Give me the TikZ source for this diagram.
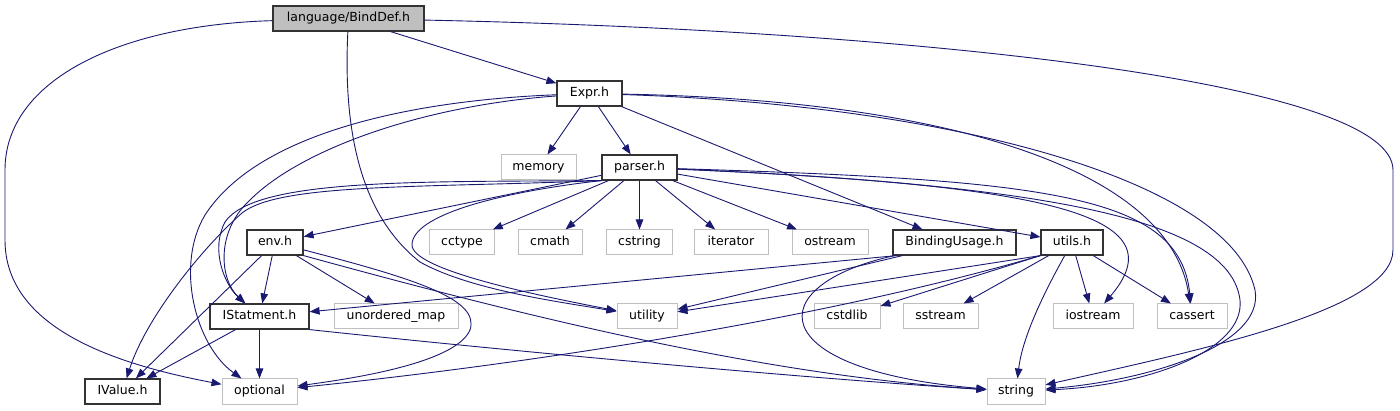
\documentclass[tikz,border=0pt]{standalone}
\usepackage{fontspec}
\setmainfont{DejaVu Sans}
\usetikzlibrary{arrows.meta}
\definecolor{edgeblue}{HTML}{191970}
\definecolor{sysgray}{HTML}{BFBFBF}
\begin{document}
\begin{tikzpicture}[
    x=1pt, y=-1pt,
    every node/.style={font=\fontsize{12.5}{14}\selectfont, inner sep=0pt, minimum height=25pt, text height=9.2pt, text depth=2.6pt},
    file/.style={draw=black!80, line width=1.2pt, fill=white},
    sys/.style={draw=sysgray, line width=1pt, fill=white},
    root/.style={draw=black!80, line width=1.2pt, fill=sysgray},
    arr/.style={-{Triangle[length=10pt,width=7.5pt]}, draw=edgeblue, line width=0.9pt}
]
\useasboundingbox (0,0) rectangle (1400,411);

% Level 0 and 1
\node[root, minimum width=151pt] (bind) at (348.5,18.5) {language/BindDef.h};
\node[file, minimum width=65pt] (expr) at (589.5,93.5) {Expr.h};
% Level 2
\node[sys, minimum width=75pt] (memory) at (538.5,167.5) {memory};
\node[file, minimum width=75pt] (parser) at (639.5,167.5) {parser.h};
% Level 3
\node[file, minimum width=56pt] (env) at (275,242.5) {env.h};
\node[sys, minimum width=65pt] (cctype) at (462,242.5) {cctype};
\node[sys, minimum width=64pt] (cmath) at (550,242.5) {cmath};
\node[sys, minimum width=66pt] (cstring) at (639.5,242.5) {cstring};
\node[sys, minimum width=74pt] (iterator) at (731,242.5) {iterator};
\node[sys, minimum width=76pt] (ostream) at (830,242.5) {ostream};
\node[file, minimum width=123pt] (binding) at (954.5,242.5) {BindingUsage.h};
\node[file, minimum width=62pt] (utils) at (1072,242.5) {utils.h};
% Level 4
\node[file, minimum width=99pt] (istatment) at (259.5,316.5) {IStatment.h};
\node[sys, minimum width=124pt] (unordered) at (396,316.5) {unordered\_map};
\node[sys, minimum width=60pt] (utility) at (647,316.5) {utility};
\node[sys, minimum width=66pt] (cstdlib) at (847,316.5) {cstdlib};
\node[sys, minimum width=75pt] (sstream) at (940.5,316.5) {sstream};
\node[sys, minimum width=80pt] (iostream) at (1093,316.5) {iostream};
\node[sys, minimum width=70pt] (cassert) at (1192,316.5) {cassert};
% Level 5
\node[file, minimum width=75pt] (ivalue) at (122.5,391.5) {IValue.h};
\node[sys, minimum width=75pt] (optional) at (259.5,391.5) {optional};
\node[sys, minimum width=58pt] (string) at (1016,391.5) {string};

% from language/BindDef.h
\draw[arr] (bind) -- (expr);
\draw[arr] (bind) .. controls (120,25) and (5,80) .. (5,170) -- (5,240) .. controls (5,330) and (120,365) .. (optional);
\draw[arr] (bind) .. controls (343,130) and (360,215) .. (420,262) .. controls (470,290) and (560,302) .. (utility);
\draw[arr] (bind) .. controls (900,30) and (1393,80) .. (1393,170) -- (1393,250) .. controls (1393,310) and (1200,350) .. (string);

% from Expr.h
\draw[arr] (expr) -- (memory);
\draw[arr] (expr) -- (parser);
\draw[arr] (expr) -- (binding);
\draw[arr] (expr) .. controls (420,100) and (260,130) .. (205,215) .. controls (175,265) and (195,345) .. (optional);
\draw[arr] (expr) .. controls (420,106) and (300,150) .. (250,200) .. controls (215,232) and (220,280) .. (istatment);
\draw[arr] (expr) .. controls (950,100) and (1170,170) .. (cassert);
\draw[arr] (expr) .. controls (950,105) and (1230,180) .. (1255,290) .. controls (1265,345) and (1150,380) .. (string);

% from parser.h
\draw[arr] (parser) -- (env);
\draw[arr] (parser) -- (cctype);
\draw[arr] (parser) -- (cmath);
\draw[arr] (parser) -- (cstring);
\draw[arr] (parser) -- (iterator);
\draw[arr] (parser) -- (ostream);
\draw[arr] (parser) -- (utils);
\draw[arr] (parser.south west) .. controls (420,182) and (255,178) .. (225,222) .. controls (210,250) and (225,285) .. (istatment);
\draw[arr] (parser.south west) .. controls (420,188) and (280,183) .. (242,213) .. controls (200,250) and (145,320) .. (ivalue);
\draw[arr] (parser.south west) .. controls (500,192) and (412,215) .. (412,245) .. controls (412,270) and (540,296) .. (utility);
\draw[arr] (parser) .. controls (1050,185) and (1180,215) .. (iostream);
\draw[arr] (parser) .. controls (1050,180) and (1180,195) .. (cassert);
\draw[arr] (parser) .. controls (1050,185) and (1230,220) .. (1240,300) .. controls (1245,350) and (1150,385) .. (string);

% from env.h
\draw[arr] (env) -- (istatment);
\draw[arr] (env) -- (ivalue);
\draw[arr] (env) -- (unordered);
\draw[arr] (env) .. controls (420,280) and (480,300) .. (470,330) .. controls (455,365) and (340,380) .. (optional);
\draw[arr] (env.south east) .. controls (520,315) and (760,375) .. (string);

% from BindingUsage.h
\draw[arr] ([xshift=4pt]binding.south west) -- (istatment);
\draw[arr] ([xshift=10pt]binding.south west) -- (utility);
\draw[arr] (binding) .. controls (760,285) and (760,370) .. (string);

% from utils.h
\draw[arr] (utils.south west) -- (utility);
\draw[arr] (utils.south west) .. controls (820,320) and (520,365) .. (optional);
\draw[arr] (utils.south west) -- (cstdlib);
\draw[arr] (utils) -- (sstream);
\draw[arr] (utils) -- (iostream);
\draw[arr] (utils) -- (cassert);
\draw[arr] (utils) .. controls (1040,300) and (1022,340) .. (string);

% from IStatment.h
\draw[arr] (istatment) -- (ivalue);
\draw[arr] (istatment) -- (optional);
\draw[arr] (istatment.south east) .. controls (500,350) and (800,378) .. (string);
\end{tikzpicture}
\end{document}
